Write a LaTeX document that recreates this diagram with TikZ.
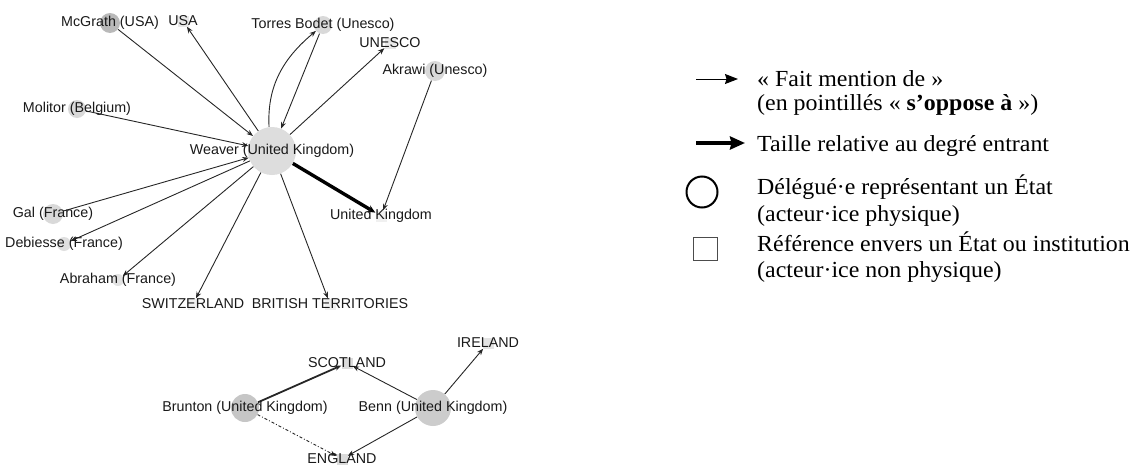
\documentclass[tikz,border=0pt]{standalone}
\usepackage{fontspec}
\setmainfont{Liberation Serif}
\newfontfamily\graphfont{Liberation Sans}
\newfontfamily\legendfont[FakeStretch=1.04]{Liberation Serif}
\usetikzlibrary{arrows.meta,backgrounds}

\begin{document}
\begin{tikzpicture}[x=1pt, y=-1pt,
    actor/.style={circle, inner sep=0pt, minimum size=#1},
    refmark/.style={rectangle, inner sep=0pt, minimum size=11pt, fill=gray!18},
    lab/.style={font=\graphfont\fontsize{14.3}{16}\selectfont, text=black!90},
    mention/.style={-{Stealth[length=6.5pt,width=5pt]}, line width=0.9pt, black!85},
    heavy/.style={-{Stealth[length=8pt,width=7pt]}, line width=3.4pt, black},
    opposes/.style={mention, dash dot},
    legtext/.style={font=\legendfont\fontsize{23}{26}\selectfont, anchor=base west, inner sep=0pt}]
  \useasboundingbox (0,0) rectangle (1135,466);

  \node[actor=20pt, fill=gray!55, label={[lab]center:McGrath (USA)}] (mcgrath) at (110,23) {};
  \node[refmark, label={[lab]center:USA}] (usa) at (183,21) {};
  \node[actor=18pt, fill=gray!30, label={[lab]center:Torres Bodet (Unesco)}] (torres) at (323,25) {};
  \node[refmark, label={[lab]center:UNESCO}] (unesco) at (390,43) {};
  \node[actor=20pt, fill=gray!30, label={[lab]center:Akrawi (Unesco)}] (akrawi) at (435,71) {};
  \node[actor=18pt, fill=gray!30, label={[lab]center:Molitor (Belgium)}] (molitor) at (77,109) {};
  \node[actor=48pt, fill=gray!27, label={[lab]center:Weaver (United Kingdom)}] (weaver) at (272,151) {};
  \node[refmark, fill=gray!12, label={[lab]center:United Kingdom}] (ukingdom) at (381,216) {};
  \node[actor=20pt, fill=gray!30, label={[lab]center:Gal (France)}] (gal) at (53,214) {};
  \node[actor=14pt, fill=gray!25, label={[lab]center:Debiesse (France)}] (debiesse) at (64,244) {};
  \node[actor=12pt, fill=gray!22, label={[lab]center:Abraham (France)}] (abraham) at (118,280) {};
  \node[refmark, fill=gray!12, label={[lab]center:SWITZERLAND}] (switzerland) at (193,304) {};
  \node[refmark, fill=gray!12, label={[lab]center:BRITISH TERRITORIES}] (british) at (330,304) {};

  \node[refmark, fill=gray!28, label={[lab]center:SCOTLAND}] (scotland) at (347,363) {};
  \node[refmark, fill=gray!22, label={[lab]center:IRELAND}] (ireland) at (488,343) {};
  \node[actor=28pt, fill=gray!45, label={[lab]center:Brunton (United Kingdom)}] (brunton) at (245,408) {};
  \node[actor=36pt, fill=gray!40, label={[lab]center:Benn (United Kingdom)}] (benn) at (433,408) {};
  \node[refmark, fill=gray!28, label={[lab]center:ENGLAND}] (england) at (342,459) {};

  \begin{scope}[on background layer]
    \draw[mention] (mcgrath) -- (weaver);
    \draw[mention] (weaver) -- (usa);
    \draw[mention] (weaver.97) to[out=93, in=220] (torres);
    \draw[mention] (torres) -- (weaver);
    \draw[mention] (weaver) -- (unesco);
    \draw[mention] (akrawi) -- (ukingdom);
    \draw[mention] (molitor) -- (weaver);
    \draw[heavy] (weaver) -- (ukingdom);
    \draw[mention] (gal) -- (weaver);
    \draw[mention] (weaver) -- (debiesse);
    \draw[mention] (weaver) -- (abraham);
    \draw[mention] (weaver) -- (switzerland);
    \draw[mention] (weaver) -- (british);
    \draw[mention, line width=1.8pt] (brunton) -- (scotland);
    \draw[mention] (benn) -- (scotland);
    \draw[mention] (benn) -- (ireland);
    \draw[mention] (benn) -- (england);
    \draw[opposes] (brunton) -- (england);
  \end{scope}

  \coordinate (thinfrom) at (696,79);
  \coordinate (thinto) at (738,79);
  \draw[line width=1pt, -{Stealth[length=13pt,width=10pt,inset=1.5pt]}] (thinfrom) -- (thinto);
  \node[legtext] (fait) at (757,86) {«~Fait mention de~»};
  \node[legtext] (pointilles) at (757,110) {(en pointillés «~\textbf{s’oppose à}~»)};

  \coordinate (thickfrom) at (696,143);
  \coordinate (thickto) at (745,143);
  \draw[line width=4.5pt, -{Stealth[length=15pt,width=13pt,inset=1.5pt]}] (thickfrom) -- (thickto);
  \node[legtext] (taille) at (757,151) {Taille relative au degré entrant};

  \node[circle, draw, line width=2pt, minimum size=31pt, inner sep=0pt] (legcircle) at (702,192) {};
  \node[legtext] (delegue) at (757,194) {Délégué·e représentant un État};
  \node[legtext] (physique) at (757,221) {(acteur·ice physique)};

  \node[rectangle, draw=black!70, line width=1pt, minimum size=23.5pt, inner sep=0pt] (legsquare) at (705.5,249) {};
  \node[legtext] (reference) at (757,251) {Référence envers un État ou institution};
  \node[legtext] (nonphysique) at (757,277) {(acteur·ice non physique)};
\end{tikzpicture}
\end{document}
